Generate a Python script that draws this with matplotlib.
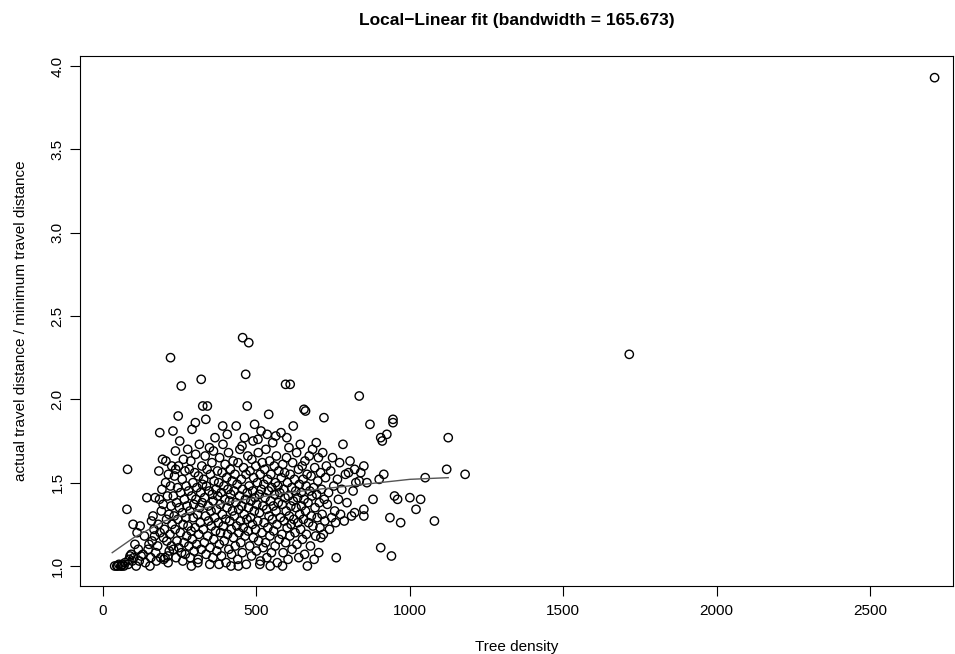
import matplotlib
matplotlib.use("Agg")
import matplotlib.pyplot as plt

plt.rcParams['font.family'] = ['Liberation Sans', 'DejaVu Sans']

# tree density vs path ratio
points = [
    (38, 1.00), (45, 1.00), (52, 1.01), (58, 1.00), (63, 1.01), (68, 1.00), (72, 1.02), (60, 1.00), (48, 1.00),
    (80, 1.58), (85, 1.04), (88, 1.06), (92, 1.07), (95, 1.03), (98, 1.25), (100, 1.05), (104, 1.13), (108, 1.00),
    (111, 1.20), (115, 1.10), (118, 1.03), (121, 1.24), (78, 1.34), (82, 1.01), (124, 1.06),
    (130, 1.07), (135, 1.18), (138, 1.02), (143, 1.41), (147, 1.10), (150, 1.13), (153, 1.00), (156, 1.05),
    (160, 1.15), (163, 1.30), (166, 1.22), (170, 1.41), (172, 1.08), (174, 1.03), (168, 1.18), (158, 1.27),
    (178, 1.12), (180, 1.25), (182, 1.57), (185, 1.80), (186, 1.20), (188, 1.05), (190, 1.33), (192, 1.46),
    (194, 1.64), (196, 1.37), (198, 1.04), (200, 1.22), (202, 1.05), (204, 1.50), (205, 1.63), (207, 1.28),
    (208, 1.15), (210, 1.42), (211, 1.06), (213, 1.55), (215, 1.31), (216, 1.09), (218, 1.19), (220, 2.25),
    (220, 1.48), (222, 1.36), (223, 1.12), (224, 1.60), (225, 1.25), (212, 1.02), (197, 1.17), (184, 1.40),
    (228, 1.81), (229, 1.42), (230, 1.10), (232, 1.30), (233, 1.54), (235, 1.22), (236, 1.69), (238, 1.05),
    (240, 1.38), (241, 1.15), (243, 1.47), (244, 1.28), (246, 1.60), (247, 1.11), (249, 1.35), (250, 1.75),
    (252, 1.20), (253, 1.44), (255, 2.08), (256, 1.08), (258, 1.52), (259, 1.32), (261, 1.25), (262, 1.64),
    (264, 1.14), (265, 1.40), (267, 1.57), (268, 1.07), (270, 1.29), (271, 1.48), (273, 1.18), (274, 1.36),
    (245, 1.90), (260, 1.03), (237, 1.58),
    (276, 1.70), (277, 1.24), (279, 1.45), (280, 1.12), (281, 1.58), (283, 1.33), (284, 1.05), (286, 1.63),
    (287, 1.21), (289, 1.42), (290, 1.82), (291, 1.16), (293, 1.50), (294, 1.29), (296, 1.37), (297, 1.09),
    (299, 1.56), (300, 1.23), (302, 1.67), (303, 1.40), (305, 1.13), (306, 1.47), (308, 1.31), (309, 1.02),
    (311, 1.54), (312, 1.19), (314, 1.73), (315, 1.35), (317, 1.26), (318, 1.44), (320, 2.12), (320, 1.10),
    (322, 1.60), (323, 1.38), (324, 1.49), (301, 1.86), (288, 1.00), (310, 1.04),
    (325, 1.96), (327, 1.22), (328, 1.52), (330, 1.14), (331, 1.41), (333, 1.66), (334, 1.30), (336, 1.07),
    (337, 1.48), (339, 1.58), (340, 1.96), (341, 1.18), (343, 1.36), (344, 1.27), (346, 1.45), (347, 1.71),
    (349, 1.11), (350, 1.55), (352, 1.33), (353, 1.24), (355, 1.62), (356, 1.43), (358, 1.05), (359, 1.39),
    (361, 1.16), (362, 1.51), (364, 1.29), (365, 1.77), (367, 1.21), (368, 1.46), (370, 1.34), (371, 1.09),
    (373, 1.57), (374, 1.42), (335, 1.88), (360, 1.69), (348, 1.01),
    (376, 1.26), (377, 1.50), (379, 1.13), (380, 1.65), (382, 1.37), (383, 1.20), (385, 1.44), (386, 1.06),
    (388, 1.56), (389, 1.31), (391, 1.73), (392, 1.24), (394, 1.48), (395, 1.15), (397, 1.40), (398, 1.61),
    (400, 1.28), (401, 1.02), (403, 1.53), (404, 1.35), (406, 1.19), (407, 1.46), (409, 1.68), (410, 1.10),
    (412, 1.39), (413, 1.27), (415, 1.58), (416, 1.43), (418, 1.22), (419, 1.07), (421, 1.51), (422, 1.33),
    (424, 1.63), (390, 1.84), (405, 1.79), (378, 1.01), (417, 1.00),
    (425, 1.17), (427, 1.45), (428, 1.30), (430, 1.55), (431, 1.12), (433, 1.38), (434, 1.84), (436, 1.24),
    (437, 1.49), (439, 1.04), (440, 1.62), (442, 1.34), (443, 1.20), (445, 1.42), (446, 1.70), (448, 1.27),
    (449, 1.14), (451, 1.52), (452, 1.36), (454, 1.08), (455, 2.37), (455, 1.46), (457, 1.23), (458, 1.59),
    (460, 1.31), (461, 1.77), (463, 1.18), (464, 1.40), (465, 2.15), (466, 1.55), (467, 1.01), (469, 1.28),
    (470, 1.96), (470, 1.44), (472, 1.66), (473, 1.21), (474, 1.35), (475, 2.34), (441, 1.00), (453, 1.72),
    (476, 1.48), (478, 1.12), (479, 1.57), (481, 1.29), (482, 1.39), (484, 1.06), (485, 1.64), (487, 1.25),
    (488, 1.45), (490, 1.17), (491, 1.53), (493, 1.33), (494, 1.85), (495, 1.41), (497, 1.22), (498, 1.60),
    (500, 1.09), (501, 1.37), (503, 1.50), (504, 1.27), (506, 1.68), (507, 1.15), (509, 1.43), (510, 1.32),
    (512, 1.55), (513, 1.03), (515, 1.81), (516, 1.46), (518, 1.20), (519, 1.62), (521, 1.36), (522, 1.11),
    (524, 1.49), (489, 1.75), (505, 1.76), (511, 1.01),
    (525, 1.26), (527, 1.58), (528, 1.41), (530, 1.14), (531, 1.70), (533, 1.34), (534, 1.05), (536, 1.52),
    (537, 1.23), (539, 1.45), (540, 1.91), (541, 1.30), (543, 1.63), (544, 1.18), (546, 1.39), (547, 1.55),
    (549, 1.08), (550, 1.47), (552, 1.28), (553, 1.74), (555, 1.36), (556, 1.21), (558, 1.60), (559, 1.43),
    (561, 1.12), (562, 1.50), (564, 1.33), (565, 1.66), (567, 1.25), (568, 1.02), (570, 1.48), (571, 1.38),
    (573, 1.57), (574, 1.16), (535, 1.79), (563, 1.78), (545, 1.00),
    (576, 1.44), (578, 1.29), (580, 1.80), (581, 1.53), (583, 1.19), (584, 1.37), (586, 1.61), (587, 1.08),
    (589, 1.46), (590, 1.27), (592, 1.56), (593, 1.41), (595, 2.09), (595, 1.14), (597, 1.33), (598, 1.65),
    (600, 1.23), (601, 1.50), (603, 1.04), (604, 1.42), (606, 1.71), (607, 1.30), (609, 1.18), (610, 2.09),
    (610, 1.55), (612, 1.36), (613, 1.25), (615, 1.47), (616, 1.10), (618, 1.62), (620, 1.84), (620, 1.39),
    (622, 1.28), (624, 1.52), (585, 1.00), (599, 1.77),
    (626, 1.20), (628, 1.45), (629, 1.35), (631, 1.68), (632, 1.13), (634, 1.41), (635, 1.26), (637, 1.58),
    (638, 1.05), (640, 1.49), (641, 1.31), (643, 1.73), (644, 1.22), (646, 1.44), (647, 1.36), (649, 1.60),
    (650, 1.16), (652, 1.52), (653, 1.28), (655, 1.94), (655, 1.40), (657, 1.07), (658, 1.63), (660, 1.93),
    (660, 1.33), (662, 1.48), (663, 1.19), (665, 1.55), (666, 1.00), (668, 1.38), (670, 1.26), (672, 1.66),
    (674, 1.45),
    (676, 1.12), (678, 1.54), (679, 1.30), (681, 1.42), (683, 1.70), (684, 1.24), (686, 1.47), (688, 1.04),
    (690, 1.59), (691, 1.35), (693, 1.18), (695, 1.74), (696, 1.43), (698, 1.29), (700, 1.51), (702, 1.65),
    (703, 1.08), (705, 1.38), (707, 1.23), (709, 1.56), (710, 1.17), (712, 1.46), (714, 1.31), (716, 1.68),
    (718, 1.19), (720, 1.89), (721, 1.40), (723, 1.27), (725, 1.53),
    (728, 1.60), (731, 1.37), (735, 1.44), (738, 1.22), (742, 1.57), (745, 1.29), (748, 1.65), (752, 1.48),
    (755, 1.33), (758, 1.26), (760, 1.05), (764, 1.52), (767, 1.40), (771, 1.62), (774, 1.31),
    (778, 1.46), (782, 1.73), (786, 1.27), (790, 1.55), (795, 1.38), (800, 1.56), (805, 1.63), (810, 1.30),
    (815, 1.45), (820, 1.32), (820, 1.58), (824, 1.50),
    (835, 2.02), (835, 1.51), (840, 1.56), (850, 1.34), (850, 1.30), (850, 1.60), (860, 1.50), (870, 1.85),
    (880, 1.40), (900, 1.52), (905, 1.77), (905, 1.11), (910, 1.75), (915, 1.55), (925, 1.79), (935, 1.29),
    (940, 1.06), (945, 1.88), (945, 1.86), (950, 1.42), (960, 1.40), (970, 1.26), (1000, 1.41), (1020, 1.34),
    (1035, 1.40), (1050, 1.53), (1080, 1.27), (1120, 1.58), (1125, 1.77), (1180, 1.55),
    (1715, 2.27), (2710, 3.93),
]
density = [p[0] for p in points]
ratio = [p[1] for p in points]

# local-linear fit curve, read at a few x positions
fit_x = [30, 100, 200, 300, 400, 500, 600, 700, 800, 900, 1000, 1125]
fit_y = [1.08, 1.17, 1.27, 1.33, 1.38, 1.41, 1.44, 1.46, 1.48, 1.50, 1.52, 1.53]

fig = plt.figure(figsize=(9.55, 6.54), dpi=100)
ax = fig.add_axes([80 / 955, 1 - 586 / 654, 873 / 955, 530 / 654])

ax.scatter(density, ratio, s=36, facecolors='none', edgecolors='black', linewidths=1.0)
ax.plot(fit_x, fit_y, color='#555555', linewidth=1.0)

ax.set_xlim(-75, 2770)
ax.set_ylim(0.88, 4.06)
ax.set_xticks([0, 500, 1000, 1500, 2000, 2500])
ax.set_yticks([1.0, 1.5, 2.0, 2.5, 3.0, 3.5, 4.0])
ax.set_yticklabels(['1.0', '1.5', '2.0', '2.5', '3.0', '3.5', '4.0'], rotation=90, va='center')
ax.tick_params(axis='x', direction='out', length=7, labelsize=11, pad=6)
ax.tick_params(axis='y', direction='out', length=7, labelsize=11, pad=4)

ax.set_title('Local\u2212Linear fit (bandwidth = 165.673)', fontsize=12.5, fontweight='bold', pad=22)
ax.set_xlabel('Tree density', fontsize=11, labelpad=16)
ax.set_ylabel('actual travel distance / minimum travel distance', fontsize=11, labelpad=16)

fig.savefig('out.png', dpi=100)
